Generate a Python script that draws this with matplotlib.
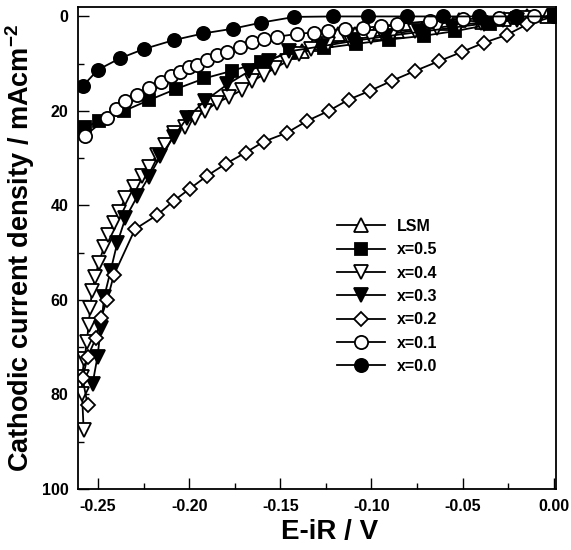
import matplotlib
matplotlib.use("Agg")
import matplotlib.pyplot as plt
from matplotlib.ticker import MultipleLocator

plt.rcParams['font.family'] = ['Liberation Sans', 'DejaVu Sans']
plt.rcParams['font.weight'] = 'bold'
plt.rcParams['mathtext.fontset'] = 'custom'
plt.rcParams['mathtext.rm'] = 'Liberation Sans:bold'
plt.rcParams['mathtext.bf'] = 'Liberation Sans:bold'

# Cathodic polarisation data: potential (V) vs current density (mA/cm2)
lsm_v = [-0.1380, -0.1317, -0.1250, -0.1183, -0.1088, -0.0979, -0.0860, -0.0723,
         -0.0604, -0.0522, -0.0394, -0.0275, -0.0147, -0.0037]
lsm_i = [7.4, 5.9, 5.0, 3.8, 3.8, 3.4, 3.0, 2.7, 1.3, 0.8, 1.1, 0.6, 0.0, 0.0]

x05_v = [-0.2570, -0.2496, -0.2358, -0.2220, -0.2075, -0.1916, -0.1764, -0.1605,
         -0.1445, -0.1262, -0.1083, -0.0906, -0.0714, -0.0540, -0.0348, -0.0202, 0.0]
x05_i = [23.5, 22.1, 20.0, 17.7, 15.4, 13.1, 11.5, 9.6, 7.7, 6.7, 5.8, 4.9, 4.1,
         3.1, 1.7, 0.4, 0.0]

x04_v = [-0.2579, -0.2588, -0.2588, -0.2575, -0.2561, -0.2552, -0.2543, -0.2534,
         -0.2515, -0.2497, -0.2466, -0.2443, -0.2415, -0.2387, -0.2350, -0.2305,
         -0.2259, -0.2222, -0.2177, -0.2131, -0.2086, -0.2022, -0.1967, -0.1912,
         -0.1850, -0.1780, -0.1708, -0.1654, -0.1590, -0.1527, -0.1462, -0.1398,
         -0.1334, -0.1240, -0.1120, -0.1000, -0.0880, -0.0760, -0.0640, -0.0520,
         -0.0400, -0.0280, -0.0150, 0.0]
x04_i = [87.5, 79.8, 76.2, 72.5, 68.8, 65.3, 61.8, 58.2, 55.1, 52.2, 48.7, 46.2,
         43.8, 41.3, 38.5, 36.0, 33.7, 31.8, 29.3, 27.2, 24.7, 23.3, 21.5, 20.0,
         18.3, 17.0, 15.5, 13.7, 12.3, 10.9, 9.5, 7.9, 6.8, 5.8, 5.0, 4.3, 3.6,
         3.0, 2.4, 1.8, 1.3, 0.8, 0.4, 0.0]

x03_v = [-0.2530, -0.2503, -0.2485, -0.2466, -0.2431, -0.2395, -0.2350, -0.2285,
         -0.2222, -0.2158, -0.2085, -0.2012, -0.1912, -0.1791, -0.1672, -0.1560,
         -0.1454, -0.1271, -0.1100, -0.0920, -0.0740, -0.0560, -0.0380, -0.0200, 0.0]
x03_i = [77.7, 72.0, 66.0, 59.3, 53.8, 48.0, 42.7, 38.1, 34.0, 29.6, 25.5, 21.5,
         17.8, 14.4, 11.6, 9.4, 7.4, 6.3, 5.2, 4.2, 3.3, 2.4, 1.5, 0.7, 0.0]

x02_v = [-0.2557, -0.2585, -0.2557, -0.2512, -0.2485, -0.2450, -0.2413, -0.2297,
         -0.2175, -0.2084, -0.1998, -0.1901, -0.1800, -0.1690, -0.1591, -0.1463,
         -0.1353, -0.1235, -0.1125, -0.1006, -0.0887, -0.0759, -0.0632, -0.0503,
         -0.0385, -0.0257, -0.0147, 0.0]
x02_i = [82.2, 76.6, 72.0, 68.1, 63.9, 60.0, 54.7, 45.0, 42.0, 39.0, 36.5, 33.7,
         31.2, 28.8, 26.5, 24.6, 22.1, 20.0, 17.6, 15.7, 13.6, 11.5, 9.5, 7.5,
         5.6, 3.9, 1.7, 0.0]

x01_v = [-0.2570, -0.2450, -0.2404, -0.2350, -0.2285, -0.2220, -0.2157, -0.2097,
         -0.2048, -0.2002, -0.1956, -0.1900, -0.1846, -0.1792, -0.1719, -0.1655,
         -0.1590, -0.1518, -0.1408, -0.1317, -0.1236, -0.1143, -0.1044, -0.0950,
         -0.0860, -0.0680, -0.0500, -0.0300, -0.0110, 0.0]
x01_i = [25.2, 21.4, 19.6, 17.8, 16.6, 15.1, 13.9, 12.7, 11.7, 10.8, 10.2, 9.2,
         8.1, 7.6, 6.5, 5.5, 4.8, 4.3, 3.7, 3.4, 3.0, 2.6, 2.4, 2.1, 1.6, 1.0,
         0.6, 0.3, 0.0, 0.0]

x00_v = [-0.2583, -0.2501, -0.2382, -0.2249, -0.2084, -0.1923, -0.1761, -0.1604,
         -0.1423, -0.1213, -0.1017, -0.0805, -0.0606, -0.0408, -0.0206, 0.0]
x00_i = [14.7, 11.3, 8.9, 6.9, 5.0, 3.6, 2.6, 1.3, 0.1, 0.0, 0.0, 0.0, 0.0, 0.0,
         0.0, 0.0]

labels = ['LSM', 'x=0.5', 'x=0.4', 'x=0.3', 'x=0.2', 'x=0.1', 'x=0.0']

fig = plt.figure(figsize=(5.71, 5.5), dpi=100)
ax = fig.add_axes([0.1366, 0.1109, 0.9729 - 0.1366, 0.9873 - 0.1109])

common = dict(color='black', lw=1.3, mec='black', mew=1.3)
ax.plot(lsm_v, lsm_i, marker='^', ms=9.5, mfc='white', label=labels[0], **common)
ax.plot(x05_v, x05_i, marker='s', ms=8.5, mfc='black', label=labels[1], **common)
ax.plot(x04_v, x04_i, marker='v', ms=9.5, mfc='white', label=labels[2], **common)
ax.plot(x03_v, x03_i, marker='v', ms=9.5, mfc='black', label=labels[3], **common)
ax.plot(x02_v, x02_i, marker='D', ms=7.5, mfc='white', label=labels[4], **common)
ax.plot(x01_v, x01_i, marker='o', ms=9.5, mfc='white', label=labels[5], **common)
ax.plot(x00_v, x00_i, marker='o', ms=9.5, mfc='black', label=labels[6], **common)

ax.set_xlim(-0.261, 0.001)
ax.set_ylim(100, -2)
ax.xaxis.set_major_locator(MultipleLocator(0.05))
ax.xaxis.set_minor_locator(MultipleLocator(0.025))
ax.yaxis.set_major_locator(MultipleLocator(20))
ax.yaxis.set_minor_locator(MultipleLocator(10))
ax.set_xticks([-0.25, -0.20, -0.15, -0.10, -0.05, 0.00])
ax.set_xticklabels(['-0.25', '-0.20', '-0.15', '-0.10', '-0.05', '0.00'])
ax.tick_params(which='both', direction='in', top=False, right=False,
               labelsize=11.5, width=1.0)
ax.tick_params(which='major', length=8, pad=7)
ax.tick_params(which='minor', length=4)
for lab in ax.get_xticklabels() + ax.get_yticklabels():
    lab.set_fontweight('bold')
for sp in ax.spines.values():
    sp.set_linewidth(1.3)

ax.set_xlabel('E-iR / V', fontsize=20, fontweight='bold')
ax.xaxis.set_label_coords(0.526, -0.062)
ax.set_ylabel(r'Cathodic current density / mAcm$^{\mathbf{-2}}$',
              fontsize=19.5, fontweight='bold')
ax.yaxis.set_label_coords(-0.086, 0.5)

leg = ax.legend(loc='upper left', bbox_to_anchor=(337 / 571, 1 - 219 / 550),
                bbox_transform=fig.transFigure, frameon=False,
                borderaxespad=0, borderpad=0, handlelength=3.0,
                handletextpad=0.75, labelspacing=0.52,
                prop={'weight': 'bold', 'size': 11.5})

fig.savefig('out.png', dpi=100)
